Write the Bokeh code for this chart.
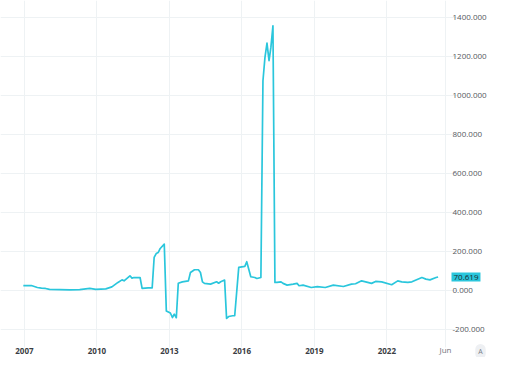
import pandas as pd
from bokeh.plotting import figure
from bokeh.models import (Range1d, FixedTicker, NumeralTickFormatter,
                          CustomJSTickFormatter, Label)
from bokeh.embed import file_html
from bokeh.resources import INLINE

# ---- data ----
months = [
    "2006-12", "2007-04", "2007-07", "2007-09", "2007-11", "2008-01", "2008-06", "2008-11",
    "2009-04", "2009-09", "2009-12", "2010-05", "2010-08", "2010-11", "2011-01", "2011-02",
    "2011-05", "2011-06", "2011-07", "2011-10", "2011-11", "2012-02", "2012-04", "2012-05",
    "2012-06", "2012-07", "2012-08", "2012-10", "2012-11", "2013-01", "2013-02", "2013-03",
    "2013-04", "2013-05", "2013-07", "2013-10", "2013-11", "2014-01", "2014-03", "2014-04",
    "2014-05", "2014-06", "2014-09", "2014-12", "2015-01", "2015-02", "2015-04", "2015-05",
    "2015-06", "2015-08", "2015-09", "2015-11", "2016-02", "2016-03", "2016-05", "2016-07",
    "2016-08", "2016-10", "2016-11", "2016-12", "2017-01", "2017-02", "2017-03", "2017-04",
    "2017-05", "2017-06", "2017-08", "2017-09", "2017-11", "2018-02", "2018-04", "2018-05",
    "2018-07", "2018-11", "2019-02", "2019-06", "2019-10", "2020-03", "2020-07", "2020-09",
    "2020-12", "2021-02", "2021-05", "2021-07", "2021-10", "2022-03", "2022-06", "2022-08",
    "2022-11", "2023-01", "2023-06", "2023-08", "2023-10", "2024-01", "2024-02",
]
values = [
    27, 27, 17, 14, 12, 7, 6, 5,
    6, 12, 7, 10, 20, 43, 56, 51,
    77, 65, 68, 68, 12, 15, 15, 171,
    191, 196, 217, 239, -103, -114, -137, -120,
    -138, 39, 46, 51, 94, 108, 108, 94,
    46, 38, 34, 46, 39, 46, 55, -142,
    -132, -128, -128, 120, 125, 149, 72, 68,
    63, 68, 1077, 1196, 1270, 1180, 1248, 1359,
    43, 43, 46, 38, 29, 34, 38, 26,
    29, 17, 21, 17, 29, 22, 34, 36,
    51, 46, 38, 48, 46, 31, 51, 46,
    43, 46, 68, 60, 56, 68, 70.619,
]
year_ticks = ["2007", "2010", "2013", "2016", "2019", "2022"]
extra_tick = "2024-06-06"
extra_tick_label = "Jun"
y_ticks = [-200, 0, 200, 400, 600, 800, 1000, 1200, 1400]
last_value = 70.619
last_label = "70.619"


def to_ms(s):
    return pd.Timestamp(s).value / 1e6


dates = pd.to_datetime([m + "-15" for m in months])

LINE = "#2ac6dc"
GRID = "#eef2f4"
FONT = "Open Sans"
W, H = 489, 357

p = figure(width=W, height=H, x_axis_type="datetime",
           y_axis_location="right", output_backend="svg", toolbar_location=None,
           x_range=Range1d(to_ms("2006-01-04"), to_ms("2026-03-18")),
           y_range=Range1d(-342.1, 1488.7),
           min_border_left=0, min_border_top=0, min_border_right=0, min_border_bottom=0,
           outline_line_color=None, background_fill_color="white",
           border_fill_color="white")

p.line(dates, values, line_color=LINE, line_width=1.7, line_join="round")

# x axis (labels drawn up into the frame area)
year_ms = [to_ms(y + "-01-01") for y in year_ticks]
p.xaxis.ticker = FixedTicker(ticks=year_ms)
p.xaxis.formatter = CustomJSTickFormatter(
    code="return String(new Date(tick).getUTCFullYear());")
p.xaxis.axis_line_color = None
p.xaxis.major_tick_line_color = None
p.xaxis.minor_tick_line_color = None
p.xaxis.major_tick_out = 0
p.xaxis.major_tick_in = 0
p.xaxis.major_label_standoff = -10
p.xaxis.major_label_text_font = FONT
p.xaxis.major_label_text_font_size = "8px"
p.xaxis.major_label_text_font_style = "bold"
p.xaxis.major_label_text_color = "#3a3d44"

# y axis (labels drawn leftwards into the frame area)
p.yaxis.ticker = FixedTicker(ticks=y_ticks)
p.yaxis.formatter = NumeralTickFormatter(format="0.000")
p.yaxis.axis_line_color = None
p.yaxis.major_tick_line_color = None
p.yaxis.minor_tick_line_color = None
p.yaxis.major_tick_out = 0
p.yaxis.major_tick_in = 0
p.yaxis.major_label_standoff = -36
p.yaxis.major_label_text_font = FONT
p.yaxis.major_label_text_font_size = "8px"
p.yaxis.major_label_text_color = "#555860"

# grid
p.xgrid.ticker = FixedTicker(ticks=year_ms + [to_ms(extra_tick)])
p.ygrid.ticker = FixedTicker(ticks=y_ticks)
p.xgrid.grid_line_color = GRID
p.ygrid.grid_line_color = GRID
try:
    p.xgrid.cross_bounds = (-290.8, 1488.7)
    p.ygrid.cross_bounds = (to_ms("2006-01-04"), to_ms("2024-12-06"))
except Exception:
    pass

# "Jun" time-scale label (regular weight)
p.add_layout(Label(x=to_ms(extra_tick), y=14, y_units="screen",
                   text=extra_tick_label, text_align="center", text_baseline="top",
                   text_font=FONT, text_font_size="8px", text_color="#70747c"))

# last value marker on the price scale
p.add_layout(Label(x=451, x_units="screen", y=last_value, y_units="data",
                   text=last_label, text_align="left", text_baseline="middle",
                   text_font=FONT, text_font_size="8px", text_color="#1c2a30",
                   background_fill_color=LINE, padding=2))

# "A" auto-scale badge
p.add_layout(Label(x=480, x_units="screen", y=6, y_units="screen",
                   text="A", text_align="center", text_baseline="middle",
                   text_font=FONT, text_font_size="7px", text_color="#7a7f88",
                   background_fill_color="#eef0f3", padding=3, border_radius=7))

open("out.html", "w").write(file_html(p, INLINE))
